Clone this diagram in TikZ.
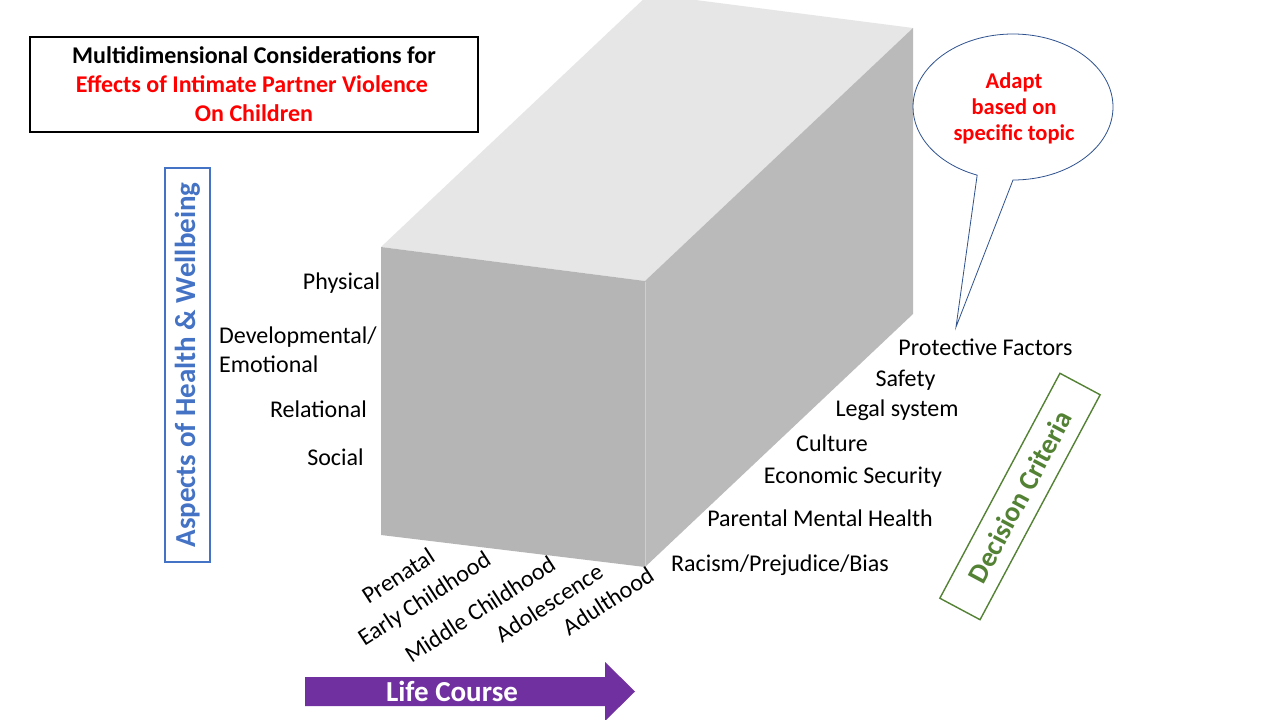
\documentclass[tikz,border=0pt]{standalone}
\usepackage{fontspec}
\setmainfont{Carlito}
\usetikzlibrary{shapes.geometric}
\definecolor{topgray}{RGB}{230,230,230}
\definecolor{frontgray}{RGB}{181,181,181}
\definecolor{sidegray}{RGB}{186,186,186}
\definecolor{edgegray}{RGB}{206,206,206}
\definecolor{ppred}{RGB}{255,0,0}
\definecolor{ppblue}{RGB}{68,114,196}
\definecolor{ppgreen}{RGB}{84,130,53}
\definecolor{pppurple}{RGB}{112,48,160}
\definecolor{bubbleline}{RGB}{47,82,143}
\tikzset{
  lbl/.style={font=\fontsize{24}{29}\selectfont, inner sep=0pt, text=black},
  stagelbl/.style={lbl, rotate=33},
  titlefont/.style={font=\fontsize{24}{29}\selectfont\bfseries},
}
\begin{document}
\begin{tikzpicture}[x=1pt,y=-1pt]
\useasboundingbox (0,0) rectangle (1280,720);
\clip (0,0) rectangle (1280,720);
\fill[white] (0,0) rectangle (1280,720);

% box faces
\fill[topgray] (381,247) -- (645,281) -- (913,28) -- (649,-6) -- cycle;
\fill[frontgray] (381,247) -- (645,281) -- (645,567) -- (381,535) -- cycle;
\fill[sidegray] (645,281) -- (913,28) -- (913,314) -- (645,567) -- cycle;
\draw[edgegray, line width=1pt] (645,282) -- (645,566);

% title
\node[draw=black, line width=1.6pt, minimum width=448, minimum height=95, inner sep=0pt] (titlebox) at (254,84.5) {};
\node[titlefont, text=black, inner sep=0pt] (t1) at (254,55) {Multidimensional Considerations for};
\node[titlefont, text=ppred, inner sep=0pt] (t2) at (252,84) {Effects of Intimate Partner Violence};
\node[titlefont, text=ppred, inner sep=0pt] (t3) at (254,113) {On Children};

% aspects box
\node[draw=ppblue, line width=1.4pt, minimum width=394, minimum height=45, rotate=90, inner sep=0pt,
      font=\fontsize{29}{34}\selectfont\bfseries, text=ppblue] (aspects) at (187.5,365) {Aspects of Health \& Wellbeing};

% left labels
\node[lbl] (physical) at (341.5,283) {Physical};
\node[lbl, anchor=west, align=left] (devemo) at (219,349.5) {Developmental/\\Emotional};
\node[lbl] (relational) at (318.5,409) {Relational};
\node[lbl] (social) at (335.5,457) {Social};

% right labels
\node[lbl] (protective) at (985.5,347) {Protective Factors};
\node[lbl] (safety) at (905.5,380) {Safety};
\node[lbl] (legal) at (897,410) {Legal system};
\node[lbl] (culture) at (832,443) {Culture};
\node[lbl] (economic) at (853,477) {Economic Security};
\node[lbl] (parental) at (820,518) {Parental Mental Health};
\node[lbl] (racism) at (780,565) {Racism/Prejudice/Bias};

% life stages
\node[stagelbl] (prenatal) at (398,576) {Prenatal};
\node[stagelbl] (early) at (425,600) {Early Childhood};
\node[stagelbl] (middle) at (480,609) {Middle Childhood};
\node[stagelbl] (adolescence) at (549,603) {Adolescence};
\node[stagelbl] (adulthood) at (608,601) {Adulthood};

% decision criteria
\node[draw=ppgreen, line width=1.4pt, minimum width=255, minimum height=45.6, rotate=61.9, inner sep=0pt,
      font=\fontsize{28}{34}\selectfont\bfseries, text=ppgreen] (decision) at (1020,496.5) {Decision Criteria};

% life course arrow
\fill[pppurple] (305,677) -- (605,677) -- (605,662) -- (635,691.5) -- (605,721) -- (605,706) -- (305,706) -- cycle;
\node[font=\fontsize{29}{34}\selectfont\bfseries, text=white, inner sep=0pt] (lifecourse) at (452,691.5) {Life Course};

% speech bubble
\coordinate (tip) at (956,327);
\draw[bubbleline, line width=0.8pt, fill=white] (1013,180) arc[start angle=90, end angle=-249, x radius=100, y radius=73] -- (tip) -- cycle;
\node[font=\fontsize{22.5}{26}\selectfont\bfseries, text=ppred, align=center, inner sep=0pt] (bubble) at (1014,108) {Adapt\\based on\\specific topic};
\end{tikzpicture}
\end{document}
